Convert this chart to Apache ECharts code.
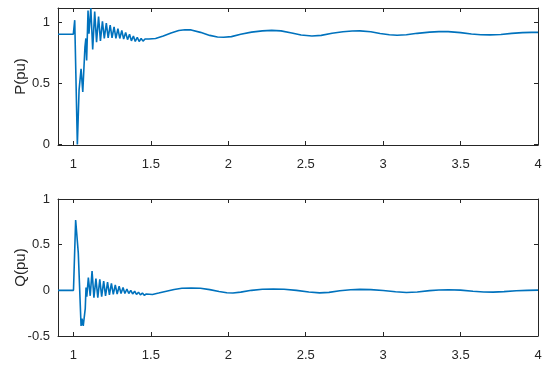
<!DOCTYPE html>
<html>
<head>
<meta charset="utf-8">
<script src="https://cdn.jsdelivr.net/npm/echarts@6/dist/echarts.min.js"></script>
<style>html,body{margin:0;padding:0;background:#fff}#c{width:550px;height:365px}</style>
</head>
<body>
<div id="c"></div>
<script>
// Time axis ticks
var xTicks = [1, 1.5, 2, 2.5, 3, 3.5, 4];
var pTicks = [0, 0.5, 1];
var qTicks = [-0.5, 0, 0.5, 1];

// Active power P(pu)
var pTime = [0.9, 0.999, 1.008, 1.025, 1.036, 1.049, 1.06, 1.074, 1.08, 1.085, 1.094, 1.10, 1.112, 1.124,
  1.137, 1.149, 1.162, 1.174, 1.187, 1.199, 1.212, 1.224, 1.237, 1.249, 1.262, 1.274, 1.287, 1.299,
  1.312, 1.324, 1.337, 1.349, 1.362, 1.374, 1.387, 1.399, 1.412, 1.424, 1.437, 1.449, 1.462, 1.474,
  1.487, 1.499, 1.53, 1.58, 1.63, 1.68, 1.72, 1.76, 1.82, 1.88, 1.93, 1.97, 2.02, 2.08, 2.15, 2.22,
  2.28, 2.34, 2.41, 2.47, 2.54, 2.6, 2.67, 2.74, 2.8, 2.85, 2.92, 2.98, 3.04, 3.09, 3.15, 3.22, 3.3,
  3.36, 3.42, 3.5, 3.57, 3.63, 3.69, 3.76, 3.83, 3.9, 3.96, 4.0];
var pValue = [0.905, 0.905, 1.02, 0.0, 0.445, 0.62, 0.43, 0.80, 0.87, 0.69, 1.10, 0.91, 1.12, 0.78,
  1.09, 0.84, 1.05, 0.85, 1.01, 0.87, 0.995, 0.875, 0.98, 0.875, 0.965, 0.87, 0.95, 0.87,
  0.935, 0.865, 0.92, 0.86, 0.905, 0.85, 0.89, 0.845, 0.88, 0.845, 0.87, 0.848, 0.866, 0.853,
  0.865, 0.858, 0.87, 0.89, 0.915, 0.935, 0.942, 0.94, 0.92, 0.895, 0.882, 0.88, 0.885, 0.905, 0.922, 0.932,
  0.936, 0.932, 0.915, 0.898, 0.89, 0.895, 0.912, 0.925, 0.931, 0.932, 0.925, 0.91, 0.90, 0.896, 0.90, 0.912, 0.922,
  0.926, 0.926, 0.918, 0.906, 0.90, 0.899, 0.903, 0.912, 0.918, 0.92, 0.92];

// Reactive power Q(pu)
var qTime = [0.9, 1.0, 1.014, 1.031, 1.049, 1.055, 1.063, 1.076, 1.081, 1.086, 1.096, 1.108, 1.12, 1.132,
  1.145, 1.157, 1.17, 1.182, 1.195, 1.207, 1.22, 1.232, 1.245, 1.257, 1.27, 1.282, 1.295, 1.307,
  1.32, 1.332, 1.345, 1.357, 1.37, 1.382, 1.395, 1.407, 1.42, 1.432, 1.445, 1.457, 1.47, 1.482,
  1.51, 1.55, 1.6, 1.65, 1.7, 1.76, 1.82, 1.88, 1.94, 1.99, 2.03, 2.08, 2.15, 2.22, 2.29, 2.36,
  2.44, 2.52, 2.59, 2.65, 2.72, 2.79, 2.85, 2.92, 3.0, 3.08, 3.15, 3.22, 3.3, 3.36, 3.42, 3.5,
  3.58, 3.65, 3.71, 3.78, 3.86, 3.93, 4.0];
var qValue = [0, 0, 0.77, 0.41, -0.39, -0.31, -0.39, -0.20, 0.03, -0.07, 0.14, -0.06, 0.21, -0.08,
  0.13, -0.08, 0.12, -0.07, 0.10, -0.06, 0.09, -0.05, 0.075, -0.045, 0.06, -0.04, 0.045, -0.035,
  0.03, -0.035, 0.015, -0.035, 0.0, -0.04, -0.01, -0.045, -0.02, -0.05, -0.03, -0.055, -0.04, -0.052,
  -0.045, -0.03, -0.01, 0.01, 0.022, 0.026, 0.022, 0.008, -0.012, -0.027, -0.03, -0.02, 0.0, 0.012, 0.015, 0.012,
  0.0, -0.018, -0.028, -0.022, -0.005, 0.007, 0.01, 0.008, -0.002, -0.016, -0.024, -0.018, -0.003, 0.004, 0.006, 0.002,
  -0.01, -0.018, -0.02, -0.014, -0.004, 0.0, 0.002];

function zip(a, b) { return a.map(function (t, i) { return [t, b[i]]; }); }

var axisCol = '#262626';
var font = 'Liberation Sans, Arial, sans-serif';
var lblStyle = { color: '#262626', fontSize: 13, fontFamily: font };

function xAx(gi, pos, show) {
  return {
    type: 'value', gridIndex: gi, position: pos, min: 0.9, max: 4,
    axisLine: { show: true, onZero: false, lineStyle: { color: axisCol, width: 1 } },
    axisTick: { show: true, inside: true, length: 4, customValues: xTicks, lineStyle: { color: axisCol } },
    axisLabel: Object.assign({ show: show, margin: 13, customValues: xTicks }, lblStyle),
    splitLine: { show: false }
  };
}
function yAx(gi, pos, show, mn, mx, ticks, name) {
  return {
    type: 'value', gridIndex: gi, position: pos, min: mn, max: mx,
    name: show ? name : '', nameLocation: 'middle', nameGap: 30, nameRotate: 90,
    nameMoveOverlap: false,
    nameTextStyle: { color: '#262626', fontSize: 15, fontFamily: font },
    axisLine: { show: true, onZero: false, lineStyle: { color: axisCol, width: 1 } },
    axisTick: { show: true, inside: true, length: 4, customValues: ticks, lineStyle: { color: axisCol } },
    axisLabel: Object.assign({ show: show, margin: 8, customValues: ticks }, lblStyle),
    splitLine: { show: false }
  };
}

var chart = echarts.init(document.getElementById('c'), null, { renderer: 'canvas' });
chart.setOption({
  animation: false,
  backgroundColor: '#fff',
  grid: [
    { left: 58, top: 8, width: 480, height: 137 },
    { left: 58, top: 199, width: 480, height: 137 }
  ],
  xAxis: [xAx(0, 'bottom', true), xAx(0, 'top', false), xAx(1, 'bottom', true), xAx(1, 'top', false)],
  yAxis: [
    yAx(0, 'left', true, -0.005, 1.12, pTicks, 'P(pu)'), yAx(0, 'right', false, -0.005, 1.12, pTicks, ''),
    yAx(1, 'left', true, -0.5, 1, qTicks, 'Q(pu)'), yAx(1, 'right', false, -0.5, 1, qTicks, '')
  ],
  series: [
    { type: 'line', xAxisIndex: 0, yAxisIndex: 0, data: zip(pTime, pValue), showSymbol: false,
      lineStyle: { color: '#0072BD', width: 1.6 }, clip: true },
    { type: 'line', xAxisIndex: 2, yAxisIndex: 2, data: zip(qTime, qValue), showSymbol: false,
      lineStyle: { color: '#0072BD', width: 1.6 }, clip: true }
  ]
});
</script>
</body>
</html>
